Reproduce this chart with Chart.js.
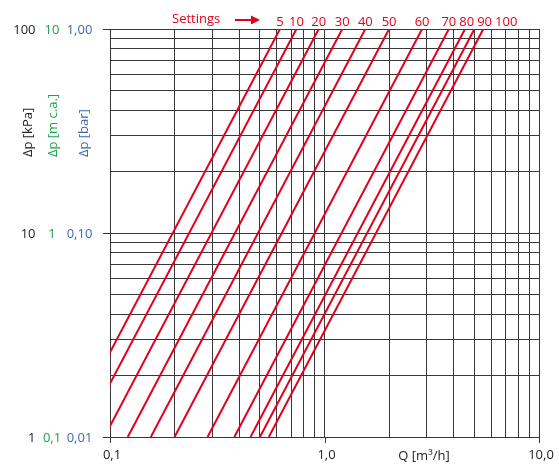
<!DOCTYPE html>
<html>
<head>
<meta charset="utf-8">
<script src="https://cdn.jsdelivr.net/npm/chart.js@4.4.1/dist/chart.umd.min.js"></script>
<style>
  html, body { margin: 0; padding: 0; background: #ffffff; }
  #wrap { width: 559px; height: 465px; }
</style>
</head>
<body>
<div id="wrap"><canvas id="c" width="559" height="465"></canvas></div>
<script>
// Valve presetting diagram: pressure drop vs. flow, one curve per setting.
const settings = ['5', '10', '20', '30', '40', '50', '60', '70', '80', '90', '100'];
// Flow rate [m³/h] at which each setting gives 1 kPa and 100 kPa.
const flowAt1kPa   = [0.062, 0.074, 0.094, 0.121, 0.155, 0.200, 0.285, 0.380, 0.452, 0.500, 0.550];
const flowAt100kPa = [0.620, 0.740, 0.940, 1.210, 1.550, 2.000, 2.850, 3.800, 4.520, 5.000, 5.500];

// Grid lines (log decades subdivided 1..9)
const xGrid = [0.1, 0.2, 0.3, 0.4, 0.5, 0.6, 0.7, 0.8, 0.9, 1, 2, 3, 4, 5, 6, 7, 8, 9, 10];
const yGrid = [1, 2, 3, 4, 5, 6, 7, 8, 9, 10, 20, 30, 40, 50, 60, 70, 80, 90, 100];

// Labelled ticks
const xMajor = [0.1, 1, 10];
const xLabels = ['0,1', '1,0', '10,0'];
const yMajor = [1, 10, 100];
const yLabelsKPa = ['1', '10', '100'];
const yLabelsMca = ['0,1', '1', '10'];
const yLabelsBar = ['0,01', '0,10', '1,00'];

const RED = '#e2001a';
const GREEN = '#1ca24c';
const BLUE = '#3d69ad';
const INK = '#222222';
const GRID = '#383838';
const FONT = '"Open Sans", "DejaVu Sans", sans-serif';

const datasets = settings.map((s, i) => ({
  label: s,
  data: [{ x: flowAt1kPa[i], y: 1 }, { x: flowAt100kPa[i], y: 100 }],
  borderColor: RED,
  borderWidth: 2,
  pointRadius: 0,
  fill: false,
  tension: 0,
  clip: 0
}));

const annotate = {
  id: 'annotate',
  afterDraw(chart) {
    const ctx = chart.ctx;
    const xs = chart.scales.x, ys = chart.scales.y;
    const area = chart.chartArea;
    ctx.save();

    // short tick marks on the labelled values
    ctx.strokeStyle = GRID;
    ctx.lineWidth = 1;
    yMajor.forEach(v => {
      const y = Math.round(ys.getPixelForValue(v)) + 0.5;
      ctx.beginPath(); ctx.moveTo(area.left - 7, y); ctx.lineTo(area.left, y); ctx.stroke();
    });
    xMajor.forEach(v => {
      const x = Math.round(xs.getPixelForValue(v)) + 0.5;
      ctx.beginPath(); ctx.moveTo(x, area.bottom); ctx.lineTo(x, area.bottom + 6); ctx.stroke();
    });

    ctx.font = '13px ' + FONT;
    ctx.textBaseline = 'middle';

    // three pressure-unit columns
    yMajor.forEach((v, i) => {
      const y = ys.getPixelForValue(v) + 1;
      ctx.fillStyle = INK;  ctx.textAlign = 'right';  ctx.fillText(yLabelsKPa[i], 35.5, y);
      ctx.fillStyle = GREEN; ctx.textAlign = 'center'; ctx.fillText(yLabelsMca[i], 52, y);
      ctx.fillStyle = BLUE;  ctx.textAlign = 'center'; ctx.fillText(yLabelsBar[i], 79.5, y);
    });

    // flow labels
    ctx.fillStyle = INK;
    ctx.textAlign = 'center';
    xMajor.forEach((v, i) => {
      ctx.fillText(xLabels[i], xs.getPixelForValue(v) + 2, area.bottom + 18);
    });
    ctx.fillText('Q [m³/h]', 424, area.bottom + 19);

    // rotated axis titles
    const titles = [['Δp [kPa]', INK, 28], ['Δp [m c.a.]', GREEN, 53.5], ['Δp [bar]', BLUE, 84]];
    titles.forEach(([t, col, x]) => {
      ctx.save();
      ctx.translate(x, 157);
      ctx.rotate(-Math.PI / 2);
      ctx.fillStyle = col;
      ctx.textAlign = 'left';
      ctx.textBaseline = 'middle';
      ctx.fillText(t, 0, 0);
      ctx.restore();
    });

    // setting numbers above the curves, nudged apart where they crowd
    ctx.fillStyle = RED;
    ctx.textAlign = 'center';
    ctx.textBaseline = 'alphabetic';
    let prevEnd = -Infinity;
    settings.forEach((s, i) => {
      const w = ctx.measureText(s).width;
      let cx = xs.getPixelForValue(flowAt100kPa[i]);
      if (cx - w / 2 < prevEnd + 3) cx = prevEnd + 3 + w / 2;
      prevEnd = cx + w / 2;
      ctx.fillText(s, cx, 25.5);
    });
    ctx.textAlign = 'left';
    ctx.fillText('Settings', 172, 22.5);

    // arrow
    ctx.strokeStyle = RED;
    ctx.lineWidth = 2;
    ctx.beginPath(); ctx.moveTo(235, 20); ctx.lineTo(252, 20); ctx.stroke();
    ctx.beginPath(); ctx.moveTo(251, 15.5); ctx.lineTo(260, 20); ctx.lineTo(251, 24.5); ctx.closePath();
    ctx.fill();

    ctx.restore();
  }
};

new Chart(document.getElementById('c'), {
  type: 'line',
  data: { datasets },
  options: {
    responsive: false,
    devicePixelRatio: 1,
    animation: false,
    events: [],
    layout: { padding: { left: 110, right: 20, top: 29, bottom: 28 } },
    plugins: { legend: { display: false }, tooltip: { enabled: false } },
    scales: {
      x: {
        type: 'logarithmic',
        min: 0.1, max: 10,
        afterBuildTicks: s => { s.ticks = xGrid.map(v => ({ value: v })); },
        ticks: { display: false },
        grid: { color: GRID, lineWidth: 1, drawTicks: false },
        border: { color: GRID, width: 1 }
      },
      y: {
        type: 'logarithmic',
        min: 1, max: 100,
        afterBuildTicks: s => { s.ticks = yGrid.map(v => ({ value: v })); },
        ticks: { display: false },
        grid: { color: GRID, lineWidth: 1, drawTicks: false },
        border: { color: GRID, width: 1 }
      }
    }
  },
  plugins: [annotate]
});
</script>
</body>
</html>
